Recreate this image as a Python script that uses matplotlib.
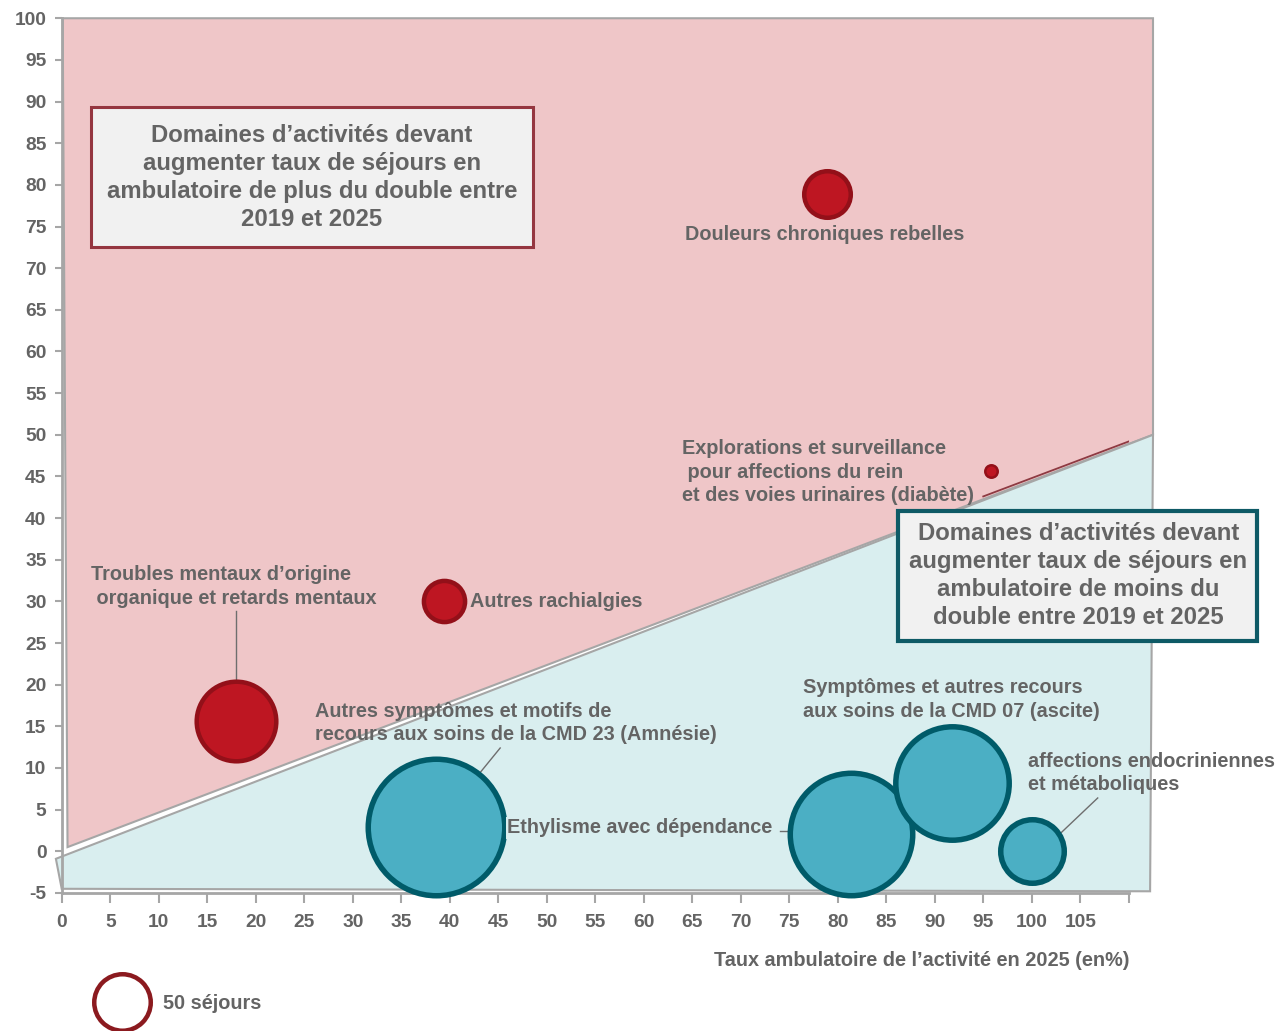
import numpy as np
import matplotlib
matplotlib.use("Agg")
import matplotlib.pyplot as plt
from matplotlib.patches import Polygon, Rectangle

plt.rcParams['font.family'] = ['Liberation Sans', 'DejaVu Sans']
plt.rcParams['font.weight'] = 'bold'
plt.rcParams['axes.unicode_minus'] = False

GREY_TXT = '#646464'
GREY_AX = '#a6a6a6'

# domaines d'activite : taux ambulatoire 2025 (x), taux 2019 (y), nb de sejours
noms = ["Douleurs chroniques rebelles",
        "Explorations et surveillance",
        "Autres rachialgies",
        "Troubles mentaux",
        "Autres symptomes CMD 23",
        "Ethylisme avec dependance",
        "Symptomes CMD 07",
        "Affections endocriniennes"]
taux_2025 = [78.9, 95.8, 39.4, 18.0, 38.6, 81.4, 91.8, 100.0]
taux_2019 = [78.9, 45.7, 30.1, 15.6, 2.9, 2.1, 8.2, 0.0]
sejours = [35, 3, 28, 95, 271, 220, 190, 64]
groupe = ["plus", "plus", "plus", "plus", "moins", "moins", "moins", "moins"]

# zones : au-dessus / au-dessous de la droite "doublement"
zone_plus_x = [0.1, 112.5, 112.5, 0.6]
zone_plus_y = [100, 100, 50, 0.5]
zone_moins_x = [-0.6, 112.5, 112.2, 0.0]
zone_moins_y = [-0.9, 50, -4.8, -4.5]
droite_x = [95.0, 110.0]
droite_y = [42.6, 49.2]

x_ticks = list(range(0, 111, 5))
x_labels = [str(v) if v <= 105 else "" for v in x_ticks]
y_ticks = list(range(-5, 101, 5))

legende_sejours = 50


def bubble_size(n, edge_px):
    # rayon exterieur en pixels proportionnel a la racine du nombre de sejours
    r_px = 30.5 * np.sqrt(n / 50.0) - edge_px / 2.0
    r_pt = r_px * 72.0 / 100.0
    return (2 * r_pt) ** 2


fig = plt.figure(figsize=(12.75, 10.31), dpi=100)
ax = fig.add_axes([0.0484, 0.1339, 0.8369, 0.8484])
ax.set_xlim(0, 110)
ax.set_ylim(-5, 100)

ax.add_patch(Polygon(list(zip(zone_plus_x, zone_plus_y)), closed=True,
                     facecolor='#efc6c8', edgecolor=GREY_AX, lw=1.5,
                     zorder=0.5, clip_on=False))
ax.add_patch(Polygon(list(zip(zone_moins_x, zone_moins_y)), closed=True,
                     facecolor='#d9eeef', edgecolor=GREY_AX, lw=1.5,
                     zorder=0.5, clip_on=False))
ax.plot(droite_x, droite_y, color='#8e3a42', lw=1.3, zorder=1)

for xi, yi, n, g in zip(taux_2025, taux_2019, sejours, groupe):
    if g == "plus":
        fc, ec, lw_px = '#be1622', '#931019', 4.5
    else:
        fc, ec, lw_px = '#4bafc4', '#005b69', 5.5
    if n < 10:
        lw_px = 2.5
    ax.scatter([xi], [yi], s=bubble_size(n, lw_px), facecolor=fc,
               edgecolor=ec, linewidth=lw_px * 0.72, zorder=3, clip_on=False)

# etiquettes
fs = 14.3
lab = dict(color=GREY_TXT, fontsize=fs, fontweight='bold', zorder=4,
           linespacing=1.31)
ax.text(78.7, 74.1, "Douleurs chroniques rebelles", ha='center', va='center', **lab)
ax.text(63.9, 45.5, "Explorations et surveillance\n pour affections du rein\n"
        "et des voies urinaires (diabète)", ha='left', va='center', **lab)
ax.text(3.0, 31.8, "Troubles mentaux d’origine\n organique et retards mentaux",
        ha='left', va='center', **lab)
ax.text(42.1, 30.0, "Autres rachialgies", ha='left', va='center', **lab)
ax.text(26.1, 15.4, "Autres symptômes et motifs de\n"
        "recours aux soins de la CMD 23 (Amnésie)", ha='left', va='center', **lab)
ax.text(45.9, 2.8, "Ethylisme avec dépendance", ha='left', va='center',
        bbox=dict(facecolor='#d9eeef', edgecolor='none', pad=1.0), **lab)
ax.text(76.4, 18.2, "Symptômes et autres recours\naux soins de la CMD 07 (ascite)",
        ha='left', va='center', **lab)
ax.text(99.6, 9.4, "affections endocriniennes\net métaboliques",
        ha='left', va='center', clip_on=False, **lab)

# traits de rappel
lead = dict(color='#6e6e6e', lw=1.0, zorder=2.8)
ax.plot([18.0, 18.0], [28.9, 20.6], **lead)
ax.plot([45.2, 43.1], [12.4, 9.4], **lead)
ax.plot([74.0, 74.9], [2.4, 2.4], **lead)
ax.plot([106.8, 103.0], [6.4, 2.2], clip_on=False, **lead)

# encadres
box_fs = 17.2
ax.add_patch(Rectangle((3.0, 72.5), 45.6, 16.8, facecolor='#f1f1f1',
                       edgecolor='#953640', lw=2.2, zorder=5))
ax.text(25.8, 80.9, "Domaines d’activités devant\naugmenter taux de séjours en\n"
        "ambulatoire de plus du double entre\n2019 et 2025",
        ha='center', va='center', color=GREY_TXT, fontsize=box_fs,
        fontweight='bold', zorder=6, linespacing=1.28)
ax.add_patch(Rectangle((86.2, 25.3), 37.0, 15.6, facecolor='#f1f1f1',
                       edgecolor='#0e5a66', lw=3.0, zorder=5, clip_on=False))
ax.text(104.8, 33.1, "Domaines d’activités devant\naugmenter taux de séjours en\n"
        "ambulatoire de moins du\ndouble entre 2019 et 2025",
        ha='center', va='center', color=GREY_TXT, fontsize=box_fs,
        fontweight='bold', zorder=6, clip_on=False, linespacing=1.28)

# legende de taille
ax.scatter([6.2], [-18.1], s=bubble_size(legende_sejours, 4.5), facecolor='white',
           edgecolor='#8b1a1f', linewidth=4.5 * 0.72, clip_on=False, zorder=3)
ax.text(10.4, -18.3, f"{legende_sejours} séjours", ha='left', va='center',
        clip_on=False, **lab)

# axes
ax.set_xticks(x_ticks)
ax.set_xticklabels(x_labels)
ax.set_yticks(y_ticks)
ax.tick_params(axis='both', colors=GREY_AX, labelcolor=GREY_TXT,
               labelsize=13.8, width=1.5)
ax.tick_params(axis='x', length=7, pad=8)
ax.tick_params(axis='y', length=5, pad=6)
for lbl in ax.get_xticklabels() + ax.get_yticklabels():
    lbl.set_fontweight('bold')
for s in ['top', 'right']:
    ax.spines[s].set_visible(False)
for s in ['left', 'bottom']:
    ax.spines[s].set_color(GREY_AX)
    ax.spines[s].set_linewidth(2)
ax.spines['left'].set_zorder(2.5)
ax.set_facecolor('none')

fig.text(1130 / 1275, 1 - 961 / 1031, "Taux ambulatoire de l’activité en 2025 (en%)",
         ha='right', va='center', color=GREY_TXT, fontsize=fs, fontweight='bold')

fig.savefig('out.png', dpi=100)
